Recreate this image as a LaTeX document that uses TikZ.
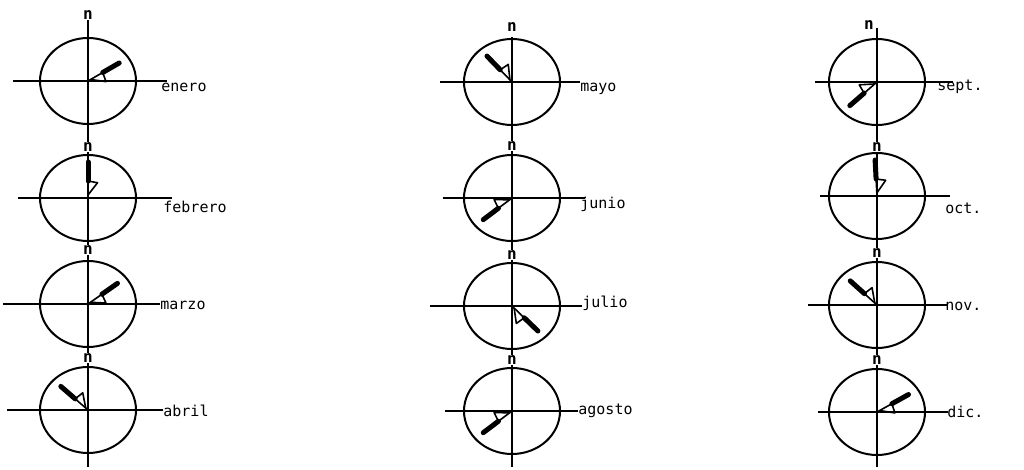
\documentclass[tikz,border=0pt]{standalone}
\usepackage{fontspec}
\newfontfamily\printfont{DejaVu Sans Mono}
\usetikzlibrary{shapes.geometric}
\newcommand\windvane[2]{%
  \draw[shaft] (#1.center) -- ([shift={({#2}:8.5pt)}]#1.center);
  \draw[vanebar] ([shift={({#2}:8.5pt)}]#1.center) -- ([shift={({#2}:18pt)}]#1.center);
  \draw[flag] ([shift={({#2}:1.5pt)}]#1.center) -- ([shift={({#2-32}:9pt)}]#1.center) -- ([shift={({#2}:8.5pt)}]#1.center);
}
\begin{document}
\begin{tikzpicture}[x=0.5pt,y=-0.5pt,
  rose/.style={ellipse,draw,line width=1pt,minimum width=48pt,minimum height=43pt,inner sep=0pt},
  axis/.style={line width=1pt},
  lbl/.style={font=\printfont\fontsize{7.5}{9}\selectfont,anchor=west,inner sep=0pt},
  nlbl/.style={font=\printfont\fontsize{8}{9}\selectfont\bfseries,fill=white,inner sep=0.4pt},
  shaft/.style={line width=0.8pt},
  vanebar/.style={line width=2.5pt,line cap=round},
  flag/.style={line width=0.8pt,line join=round}]
\useasboundingbox (0,0) rectangle (1024,470);

% vertical axes
\coordinate (ta) at (88,20);  \coordinate (ba) at (88,467);
\coordinate (tb) at (512,37); \coordinate (bb) at (512,467);
\coordinate (tc) at (877,28); \coordinate (bc) at (877,467);
\draw[axis] (ta) -- (ba);
\draw[axis] (tb) -- (bb);
\draw[axis] (tc) -- (bc);

% circles
\node[rose] (c1)  at (88,81)   {};
\node[rose] (c2)  at (88,198)  {};
\node[rose] (c3)  at (88,304)  {};
\node[rose] (c4)  at (88,410)  {};
\node[rose] (c5)  at (512,82)  {};
\node[rose] (c6)  at (512,198) {};
\node[rose] (c7)  at (512,306) {};
\node[rose] (c8)  at (512,411) {};
\node[rose] (c9)  at (877,82)  {};
\node[rose] (c10) at (877,196) {};
\node[rose] (c11) at (877,305) {};
\node[rose] (c12) at (877,412) {};

% horizontal axes
\coordinate (l1) at (13,81);   \coordinate (r1) at (167,81);
\coordinate (l2) at (18,198);  \coordinate (r2) at (172,198);
\coordinate (l3) at (3,304);   \coordinate (r3) at (160,304);
\coordinate (l4) at (7,410);   \coordinate (r4) at (163,410);
\coordinate (l5) at (440,82);  \coordinate (r5) at (580,82);
\coordinate (l6) at (443,198); \coordinate (r6) at (585,198);
\coordinate (l7) at (430,306); \coordinate (r7) at (582,306);
\coordinate (l8) at (445,411); \coordinate (r8) at (578,411);
\coordinate (l9) at (815,82);  \coordinate (r9) at (953,82);
\coordinate (l10) at (820,196); \coordinate (r10) at (950,196);
\coordinate (l11) at (808,305); \coordinate (r11) at (947,305);
\coordinate (l12) at (818,412); \coordinate (r12) at (948,412);
\foreach \i in {1,...,12} {\draw[axis] (l\i) -- (r\i);}

% north labels
\node[nlbl] (n1)  at (88,15)   {n};
\node[nlbl] (n2)  at (88,147)  {n};
\node[nlbl] (n3)  at (88,250)  {n};
\node[nlbl] (n4)  at (88,358)  {n};
\node[nlbl] (n5)  at (512,27)  {n};
\node[nlbl] (n6)  at (512,146) {n};
\node[nlbl] (n7)  at (512,255) {n};
\node[nlbl] (n8)  at (512,360) {n};
\node[nlbl] (n9)  at (869,25)  {n};
\node[nlbl] (n10) at (877,147) {n};
\node[nlbl] (n11) at (877,253) {n};
\node[nlbl] (n12) at (877,360) {n};

% month labels
\node[lbl] (m1)  at (161,87)  {enero};
\node[lbl] (m2)  at (163,207) {febrero};
\node[lbl] (m3)  at (160,305) {marzo};
\node[lbl] (m4)  at (163,411) {abril};
\node[lbl] (m5)  at (580,89)  {mayo};
\node[lbl] (m6)  at (580,204) {junio};
\node[lbl] (m7)  at (582,303) {julio};
\node[lbl] (m8)  at (578,411) {agosto};
\node[lbl] (m9)  at (937,87)  {sept.};
\node[lbl] (m10) at (945,208) {oct.};
\node[lbl] (m11) at (945,306) {nov.};
\node[lbl] (m12) at (947,412) {dic.};

% wind vanes
\windvane{c1}{30}
\windvane{c2}{90}
\windvane{c3}{35}
\windvane{c4}{139}
\windvane{c5}{134}
\windvane{c6}{217}
\windvane{c7}{316}
\windvane{c8}{217}
\windvane{c9}{221}
\windvane{c10}{93}
\windvane{c11}{138}
\windvane{c12}{29}
\end{tikzpicture}
\end{document}
